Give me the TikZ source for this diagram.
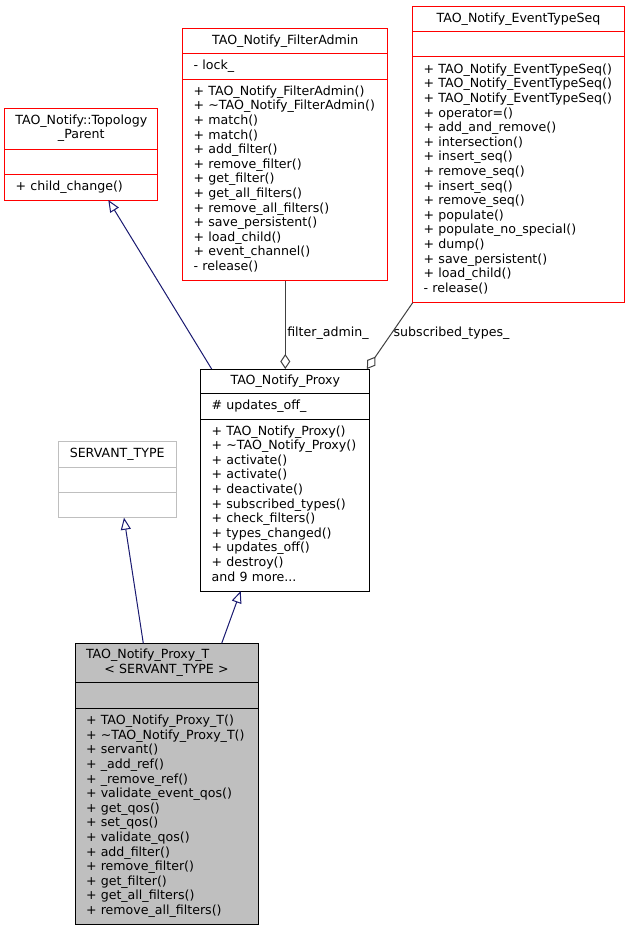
\documentclass[tikz,border=0pt]{standalone}
\usepackage{fontspec}
\setmainfont{DejaVu Sans}
\usepackage{tikz}
\usetikzlibrary{positioning, arrows.meta}

\definecolor{dgred}{HTML}{FF0000}
\definecolor{dggray}{HTML}{BFBFBF}
\definecolor{dgblue}{HTML}{191970}
\definecolor{dgdark}{HTML}{404040}
\newcommand\dgfont{\fontsize{12.6}{14.6}\selectfont}

\tikzset{
  part/.style={draw, line width=1pt, inner ysep=0pt, outer sep=0pt, font=\dgfont,
               anchor=north, execute at begin node=\strut, execute at end node=\strut},
  head/.style={part, inner xsep=4pt, align=center},
  body/.style={part, inner xsep=11pt, align=left},
  inherit/.style={draw=dgblue, line width=1pt, -{Triangle[open, length=12pt, width=10pt]}},
  aggr/.style={draw=dgdark, line width=1pt, {Diamond[open, length=15pt, width=10pt]}-},
  role/.style={font=\dgfont, inner sep=1.5pt, anchor=west}
}

\begin{document}
\begin{tikzpicture}[x=1pt, y=-1pt]
\useasboundingbox (0,0) rectangle (629,931);
%
% TAO_Notify::Topology_Parent
\node[head, draw=dgred, minimum width=153.3pt, minimum height=40pt] (tp) at (81.3,109)
  {TAO\_Notify::Topology\\\_Parent};
\node[body, draw=dgred, text width=131.3pt, minimum height=25.3pt, below=0pt of tp] (tp-a) {};
\node[body, draw=dgred, text width=131.3pt, minimum height=25.7pt, below=0pt of tp-a] (tp-m)
  {+ child\_change()};
%
% TAO_Notify_FilterAdmin
\node[head, draw=dgred, minimum width=205.3pt, minimum height=25pt] (fa) at (285.3,28.7)
  {TAO\_Notify\_FilterAdmin};
\node[body, draw=dgred, text width=183.3pt, minimum height=25.6pt, below=0pt of fa] (fa-a) {- lock\_};
\node[body, draw=dgred, text width=183.3pt, minimum height=201.4pt, below=0pt of fa-a] (fa-m)
  {+ TAO\_Notify\_FilterAdmin()\\
   + \textasciitilde TAO\_Notify\_FilterAdmin()\\
   + match()\\
   + match()\\
   + add\_filter()\\
   + remove\_filter()\\
   + get\_filter()\\
   + get\_all\_filters()\\
   + remove\_all\_filters()\\
   + save\_persistent()\\
   + load\_child()\\
   + event\_channel()\\
   - release()};
%
% TAO_Notify_EventTypeSeq
\node[head, draw=dgred, minimum width=211.6pt, minimum height=25.3pt] (ets) at (518.5,6.7)
  {TAO\_Notify\_EventTypeSeq};
\node[body, draw=dgred, text width=189.6pt, minimum height=25pt, below=0pt of ets] (ets-a) {};
\node[body, draw=dgred, text width=189.6pt, minimum height=245.7pt, below=0pt of ets-a] (ets-m)
  {+ TAO\_Notify\_EventTypeSeq()\\
   + TAO\_Notify\_EventTypeSeq()\\
   + TAO\_Notify\_EventTypeSeq()\\
   + operator=()\\
   + add\_and\_remove()\\
   + intersection()\\
   + insert\_seq()\\
   + remove\_seq()\\
   + insert\_seq()\\
   + remove\_seq()\\
   + populate()\\
   + populate\_no\_special()\\
   + dump()\\
   + save\_persistent()\\
   + load\_child()\\
   - release()};
%
% TAO_Notify_Proxy
\node[head, minimum width=169.3pt, minimum height=24.7pt] (px) at (285.3,369)
  {TAO\_Notify\_Proxy};
\node[body, text width=147.3pt, minimum height=25.6pt, below=0pt of px] (px-a) {\# updates\_off\_};
\node[body, text width=147.3pt, minimum height=171.7pt, below=0pt of px-a] (px-m)
  {+ TAO\_Notify\_Proxy()\\
   + \textasciitilde TAO\_Notify\_Proxy()\\
   + activate()\\
   + activate()\\
   + deactivate()\\
   + subscribed\_types()\\
   + check\_filters()\\
   + types\_changed()\\
   + updates\_off()\\
   + destroy()\\
   and 9 more...};
%
% SERVANT_TYPE
\node[head, draw=dggray, minimum width=117.7pt, minimum height=25.6pt] (sv) at (117.2,441.7)
  {SERVANT\_TYPE};
\node[body, draw=dggray, text width=95.7pt, minimum height=25.4pt, below=0pt of sv] (sv-a) {};
\node[body, draw=dggray, text width=95.7pt, minimum height=25pt, below=0pt of sv-a] (sv-m) {};
%
% TAO_Notify_Proxy_T< SERVANT_TYPE >
\node[head, fill=dggray, inner xsep=11pt, text width=161pt, minimum height=39.4pt] (pt) at (166.5,643.3)
  {\makebox[\hsize][l]{TAO\_Notify\_Proxy\_T}\\< SERVANT\_TYPE >};
\node[body, fill=dggray, text width=161pt, minimum height=26pt, below=0pt of pt] (pt-a) {};
\node[body, fill=dggray, text width=161pt, minimum height=216pt, below=0pt of pt-a] (pt-m)
  {+ TAO\_Notify\_Proxy\_T()\\
   + \textasciitilde TAO\_Notify\_Proxy\_T()\\
   + servant()\\
   + \_add\_ref()\\
   + \_remove\_ref()\\
   + validate\_event\_qos()\\
   + get\_qos()\\
   + set\_qos()\\
   + validate\_qos()\\
   + add\_filter()\\
   + remove\_filter()\\
   + get\_filter()\\
   + get\_all\_filters()\\
   + remove\_all\_filters()};
%
% relations
\draw[inherit] ([xshift=11pt]px.north west) -- ([xshift=27pt]tp-m.south);
\draw[aggr] (px.north) -- node[role, pos=0.41] {filter\_admin\_} (fa-m.south);
\draw[aggr] ([xshift=-3pt]px.north east) -- node[role, pos=0.54] {subscribed\_types\_} (ets-m.south west);
\draw[inherit] ([xshift=-23.2pt]pt.north) -- ([xshift=6.8pt]sv-m.south);
\draw[inherit] ([xshift=55.2pt]pt.north) -- ([xshift=-44.6pt]px-m.south);
%
\end{tikzpicture}
\end{document}
